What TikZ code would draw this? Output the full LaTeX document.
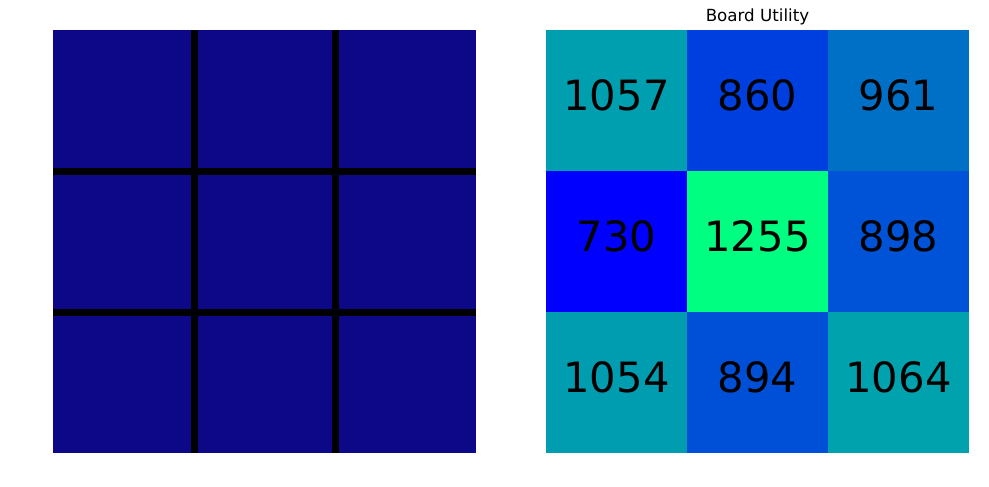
\documentclass[tikz,border=0pt]{standalone}
\usepackage{fontspec}
\setmainfont{DejaVu Sans}
\usetikzlibrary{positioning}

\definecolor{boardblue}{RGB}{13,8,135}
\definecolor{u1057}{RGB}{0,159,176}
\definecolor{u860}{RGB}{0,63,223}
\definecolor{u961}{RGB}{0,112,199}
\definecolor{u730}{RGB}{0,0,255}
\definecolor{u1255}{RGB}{0,255,128}
\definecolor{u898}{RGB}{0,82,214}
\definecolor{u1054}{RGB}{0,157,176}
\definecolor{u894}{RGB}{0,80,215}
\definecolor{u1064}{RGB}{0,162,174}

\begin{document}
\begin{tikzpicture}[
    x=1pt, y=-1pt,
    board/.style={rectangle,fill=boardblue,minimum size=423pt,inner sep=0pt,outer sep=0pt},
    gridline/.style={line width=7pt,black},
    cell/.style={rectangle,minimum size=141pt,inner sep=0pt,outer sep=0pt,text depth=10pt,
                 font=\fontsize{41.7}{42}\selectfont},
    title/.style={anchor=base,font=\fontsize{16.7}{17}\selectfont}
]
\useasboundingbox (0,0) rectangle (989,487);

% Game board
\node[board] (board) at (264.5,241.5) {};
\draw[gridline] (194.5,30) -- (194.5,453);
\draw[gridline] (335.5,30) -- (335.5,453);
\draw[gridline] (53,171.5) -- (476,171.5);
\draw[gridline] (53,312.5) -- (476,312.5);

% Utility heat map
\node[cell,fill=u1057] (c11) at (616.5,100.5) {1057};
\node[cell,fill=u860,right=0pt of c11] (c12) {860};
\node[cell,fill=u961,right=0pt of c12] (c13) {961};
\node[cell,fill=u730,below=0pt of c11] (c21) {730};
\node[cell,fill=u1255,right=0pt of c21] (c22) {1255};
\node[cell,fill=u898,right=0pt of c22] (c23) {898};
\node[cell,fill=u1054,below=0pt of c21] (c31) {1054};
\node[cell,fill=u894,right=0pt of c31] (c32) {894};
\node[cell,fill=u1064,right=0pt of c32] (c33) {1064};

% Title
\node[title] (util) at (757.5,22) {Board Utility};

\end{tikzpicture}
\end{document}
